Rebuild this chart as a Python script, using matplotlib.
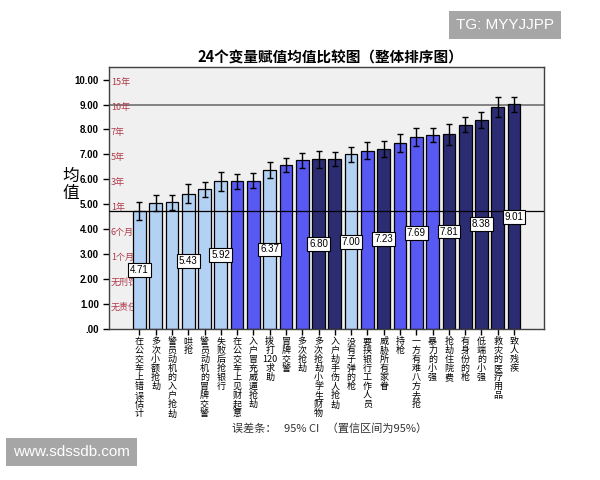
import matplotlib
matplotlib.use('Agg')
import matplotlib.pyplot as plt
import numpy as np

plt.rcParams['font.family'] = ['Noto Sans CJK SC', 'DejaVu Sans']

# data
labels = ['在公交车上错误估计', '多次小额抢劫', '警员动机的入户抢劫', '哄抢',
          '警员动机的冒牌交警', '失败后抢银行', '在公交车上见财起意', '入户冒充威逼抢劫',
          '拨打|120|求助', '冒牌交警', '多次抢劫', '多次抢劫小学生财物',
          '入户劫手伤人抢劫', '没有子弹的枪', '要挟银行工作人员', '威胁所有家眷',
          '持枪', '一方有难八方去抢', '暴力的小强', '抢劫住院费',
          '有身份的枪', '低端的小强', '救灾的医疗用品', '致人残疾']
means = [4.71, 5.05, 5.07, 5.43, 5.60, 5.92, 5.92, 5.95,
         6.37, 6.57, 6.77, 6.80, 6.81, 7.00, 7.15, 7.23,
         7.45, 7.69, 7.76, 7.81, 8.19, 8.38, 8.90, 9.01]
ci_half = [0.36, 0.33, 0.32, 0.38, 0.30, 0.37, 0.31, 0.30,
           0.33, 0.27, 0.30, 0.33, 0.28, 0.31, 0.34, 0.32,
           0.36, 0.36, 0.28, 0.43, 0.31, 0.34, 0.41, 0.31]
groups = ['L', 'L', 'L', 'L', 'L', 'L', 'M', 'M',
          'L', 'M', 'M', 'D', 'D', 'L', 'M', 'D',
          'M', 'M', 'M', 'D', 'D', 'D', 'D', 'D']
shown = [0, 3, 5, 8, 11, 13, 15, 17, 19, 21, 23]  # bars with a value box
yticks = [0, 1, 2, 3, 4, 5, 6, 7, 8, 9, 10]
ytick_labels = ['.00', '1.00', '2.00', '3.00', '4.00', '5.00',
                '6.00', '7.00', '8.00', '9.00', '10.00']
notes = ['无责任', '无刑罚', '1个月', '6个月', '1年', '3年', '5年', '7年', '10年', '15年']
note_pos = [1, 2, 3, 4, 5, 6, 7, 8, 9, 10]

palette = {'L': '#b3d1f2', 'M': '#5858f2', 'D': '#2b2c72'}


def vertical(label):
    # stack characters top to bottom, keep digit runs like "120" on one line
    lines = []
    for part in label.split('|'):
        if part.isdigit():
            lines.append(part)
        else:
            lines.extend(list(part))
    return '\n'.join(lines)


fig = plt.figure(figsize=(6, 4.8), dpi=100)
ax = fig.add_axes([0.182, 0.315, 0.725, 0.545])
ax.set_facecolor('#f0f0f0')

x = np.arange(len(means))
ax.bar(x, means, width=0.78, color=[palette[g] for g in groups],
       edgecolor='black', linewidth=0.9, zorder=2)
ax.errorbar(x, means, yerr=ci_half, fmt='none', ecolor='black',
            elinewidth=1, capsize=2, capthick=1, zorder=3)

ax.axhline(9.0, color='#707070', linewidth=1.2, zorder=1)
ax.axhline(means[0], color='black', linewidth=0.9, zorder=4)

for i in shown:
    ax.text(i, means[i] / 2, '%.2f' % means[i], ha='center', va='center',
            fontsize=7, family='Liberation Sans', zorder=5,
            bbox=dict(boxstyle='square,pad=0.2', fc='white', ec='black', lw=0.8))

for n, p in zip(notes, note_pos):
    ax.text(-1.75, p - 0.12, n, ha='left', va='center', fontsize=6.5,
            color='#b03a4a', zorder=1)

ax.set_xlim(-1.85, len(means) - 1 + 1.85)
ax.set_ylim(0, 10.5)
ax.set_yticks(yticks)
ax.set_yticklabels(ytick_labels, fontsize=7, fontweight='bold', family='Liberation Sans')
ax.set_xticks(x)
ax.set_xticklabels([vertical(l) for l in labels], fontsize=6.5, va='top', linespacing=1.0)
ax.tick_params(axis='both', direction='out', length=4, width=1, colors='black')
ax.tick_params(axis='x', pad=2)
for s in ax.spines.values():
    s.set_color('#404040')
    s.set_linewidth(1)

fig.text(0.55, 0.881, '24个变量赋值均值比较图（整体排序图）', ha='center', va='center',
         fontsize=10.5, fontweight='bold')
fig.text(0.118, 0.615, '均\n值', ha='center', va='center', fontsize=12, linespacing=1.0)
fig.text(0.55, 0.108, '误差条：   95% CI   （置信区间为95%）', ha='center', va='center',
         fontsize=8, color='#333333')

# watermark boxes
fig.text(0.76, 0.948, 'TG: MYYJJPP', ha='left', va='center', fontsize=11,
         color='white', family='Liberation Sans',
         bbox=dict(boxstyle='square,pad=0.45', fc='#a6a6a6', ec='none'))
fig.text(0.022, 0.058, 'www.sdssdb.com', ha='left', va='center', fontsize=11,
         color='white', family='Liberation Sans',
         bbox=dict(boxstyle='square,pad=0.45', fc='#a6a6a6', ec='none'))

fig.savefig('out.png', dpi=100)
